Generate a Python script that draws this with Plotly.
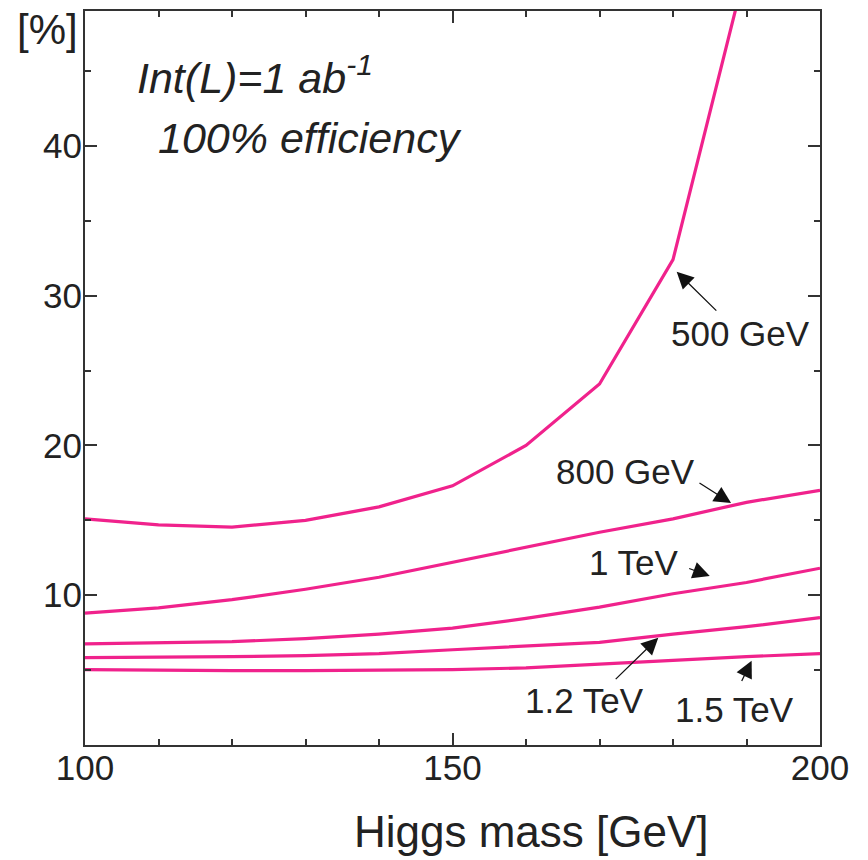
import plotly.graph_objects as go

# ---- data ----
higgs_mass = [100, 110, 120, 130, 140, 150, 160, 170, 180, 190, 200]
err_500gev = [15.1, 14.7, 14.55, 15.0, 15.9, 17.3, 20.0, 24.1, 32.4, 52.0]
err_800gev = [8.8, 9.15, 9.7, 10.4, 11.2, 12.2, 13.2, 14.2, 15.1, 16.2, 17.0]
err_1tev = [6.75, 6.8, 6.9, 7.1, 7.4, 7.8, 8.45, 9.2, 10.1, 10.85, 11.8]
err_1p2tev = [5.83, 5.85, 5.9, 5.96, 6.1, 6.36, 6.6, 6.85, 7.4, 7.9, 8.5]
err_1p5tev = [5.03, 4.97, 4.96, 4.96, 4.97, 5.03, 5.15, 5.4, 5.7, 5.9, 6.1]

x_tickvals = [100, 150, 200]
y_tickvals = [10, 20, 30, 40]

series = [
    ("500 GeV", err_500gev),
    ("800 GeV", err_800gev),
    ("1 TeV", err_1tev),
    ("1.2 TeV", err_1p2tev),
    ("1.5 TeV", err_1p5tev),
]

LINE = "#F0228C"
INK = "#222222"
FONT = "Liberation Sans, Arial, sans-serif"

fig = go.Figure()
for name, vals in series:
    fig.add_trace(go.Scatter(
        x=higgs_mass[:len(vals)], y=vals, mode="lines", name=name,
        line=dict(color=LINE, width=3.2), showlegend=False,
    ))

axis_common = dict(
    showline=True, linecolor="#333333", linewidth=2, mirror="allticks",
    ticks="inside", ticklen=12, tickwidth=2, tickcolor="#333333",
    showgrid=False, zeroline=False,
    tickfont=dict(family=FONT, size=35, color=INK),
)

fig.update_xaxes(range=[100, 200], tickvals=x_tickvals,
                 minor=dict(dtick=10, ticks="inside", ticklen=6, tickwidth=2, tickcolor="#333333"),
                 ticklabelstandoff=-9, **axis_common)
fig.update_yaxes(range=[0, 49], tickvals=y_tickvals,
                 minor=dict(dtick=5, ticks="inside", ticklen=6, tickwidth=2, tickcolor="#333333"),
                 ticklabelstandoff=-6, **axis_common)

annotations = []
# curve labels with arrows: (text, text_x, text_y, head_x, head_y, tail_x, tail_y)
labels = [
    ("500 GeV", 189.2, 27.5, 180.5, 31.6, 186.1, 28.9),
    ("800 GeV", 173.5, 18.27, 187.9, 16.15, 183.4, 17.55),
    ("1 TeV", 174.7, 12.18, 185.0, 11.28, 182.0, 11.82),
    ("1.2 TeV", 168.0, 2.97, 178.0, 7.16, 172.0, 4.30),
    ("1.5 TeV", 188.4, 2.37, 190.7, 5.63, 189.25, 4.17),
]
for text, tx, ty, hx, hy, ax_, ay_ in labels:
    annotations.append(dict(x=tx, y=ty, xref="x", yref="y", text=text, showarrow=False,
                            xanchor="center", yanchor="middle",
                            font=dict(family=FONT, size=35, color=INK)))
    annotations.append(dict(x=hx, y=hy, xref="x", yref="y", ax=ax_, ay=ay_,
                            axref="x", ayref="y", text="", showarrow=True,
                            arrowhead=2, arrowsize=2.6, arrowwidth=1.3, arrowcolor="#111111"))

annotations.append(dict(x=106.8, y=44.75, xref="x", yref="y", xanchor="left", yanchor="middle",
                        text="<i>Int(L)=1 ab<sup>-1</sup></i>", showarrow=False,
                        font=dict(family=FONT, size=43, color=INK)))
annotations.append(dict(x=109.6, y=40.5, xref="x", yref="y", xanchor="left", yanchor="middle",
                        text="<i>100% efficiency</i>", showarrow=False,
                        font=dict(family=FONT, size=43, color=INK)))
annotations.append(dict(x=-0.051, y=0.975, xref="paper", yref="paper", xanchor="center",
                        yanchor="middle", text="[%]", showarrow=False,
                        font=dict(family=FONT, size=42, color=INK)))
annotations.append(dict(x=0.607, y=-0.118, xref="paper", yref="paper", xanchor="center",
                        yanchor="middle", text="Higgs mass [GeV]", showarrow=False,
                        font=dict(family=FONT, size=44, color=INK)))

fig.update_layout(
    width=868, height=860,
    margin=dict(l=85, r=48, t=9, b=115),
    paper_bgcolor="white", plot_bgcolor="white",
    annotations=annotations,
)

fig.write_html("out.html")
